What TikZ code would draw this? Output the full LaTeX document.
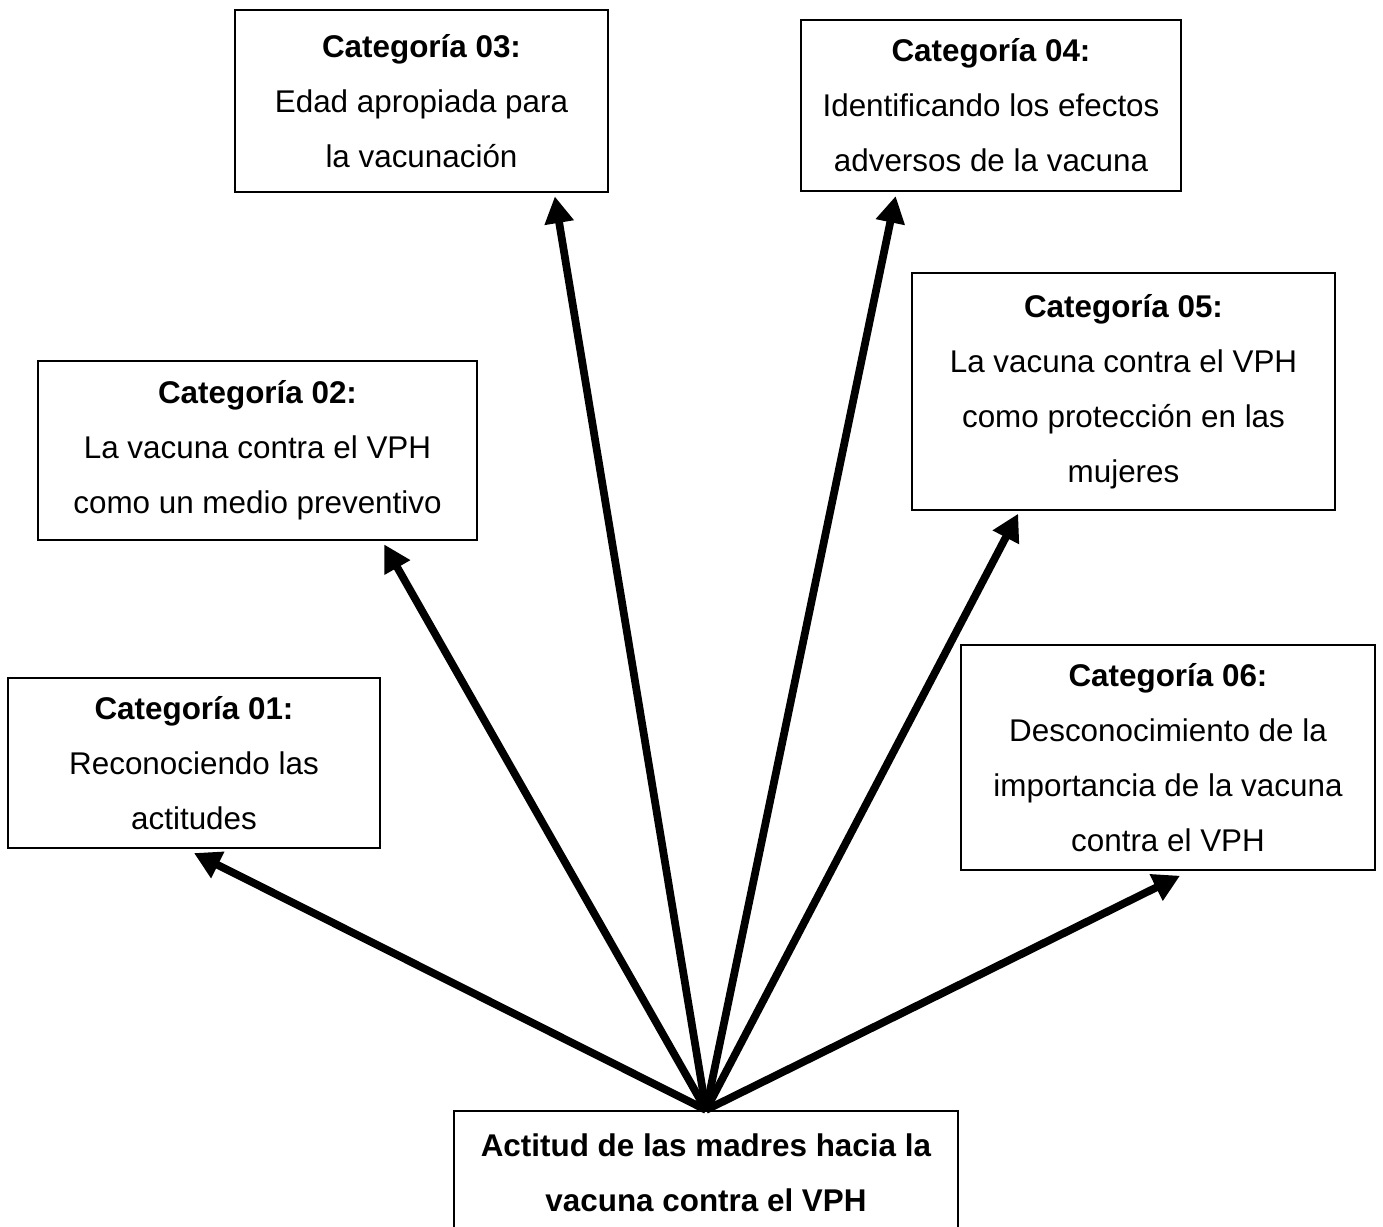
\documentclass[tikz,border=0pt]{standalone}
\usepackage{fontspec}
\setmainfont{Liberation Sans}
\usetikzlibrary{arrows.meta}

\begin{document}
\begin{tikzpicture}[
        x=0.015cm, y=-0.015cm,
        catbox/.style={draw, line width=0.9pt, inner sep=0pt, align=center, fill=white},
        arrow/.style={-{Triangle[length=0.4cm, width=0.42cm]}, line width=3.3pt},
        every node/.style={font=\fontsize{13.4}{23.5}\selectfont}
    ]
    \path[use as bounding box] (0,0) rectangle (1383,1227);
    \clip (0,0) rectangle (1383,1227);
    
    % Left categories
    \node[catbox, minimum width=5.58cm, minimum height=2.55cm] (cat01) at (194, 763) {\textbf{Categoría 01:}\\Reconociendo las\\actitudes};
    \node[catbox, minimum width=6.585cm, minimum height=2.685cm] (cat02) at (257.5, 450.5) {\textbf{Categoría 02:}\\La vacuna contra el VPH\\como un medio preventivo};
    \node[catbox, minimum width=5.595cm, minimum height=2.73cm] (cat03) at (421.5, 101) {\textbf{Categoría 03:}\\Edad apropiada para\\la vacunación};
    
    % Right categories
    \node[catbox, minimum width=5.7cm, minimum height=2.565cm] (cat04) at (991, 105.5) {\textbf{Categoría 04:}\\Identificando los efectos\\adversos de la vacuna};
    \node[catbox, minimum width=6.345cm, minimum height=3.555cm] (cat05) at (1123.5, 391.5) {\textbf{Categoría 05:}\\La vacuna contra el VPH\\como protección en las\\mujeres};
    \node[catbox, minimum width=6.21cm, minimum height=3.375cm] (cat06) at (1168, 757.5) {\textbf{Categoría 06:}\\Desconocimiento de la\\importancia de la vacuna\\contra el VPH};
    
    % Central theme
    \node[catbox, minimum width=7.56cm, minimum height=1.845cm] (actitud) at (706, 1172.5) {\textbf{Actitud de las madres hacia la}\\\textbf{vacuna contra el VPH}};
    
    % Arrows out of the central theme
    \draw[arrow] (actitud.north) -- ([yshift=-0.06cm]cat01.south);
    \draw[arrow] (actitud.north) -- ([xshift=1.9cm, yshift=-0.05cm]cat02.south);
    \draw[arrow] (actitud.north) -- ([xshift=2cm, yshift=-0.05cm]cat03.south);
    \draw[arrow] (actitud.north) -- ([xshift=-1.43cm, yshift=-0.06cm]cat04.south);
    \draw[arrow] (actitud.north) -- ([xshift=-1.58cm, yshift=-0.04cm]cat05.south);
    \draw[arrow] (actitud.north) -- ([xshift=0.18cm, yshift=-0.07cm]cat06.south);
    
\end{tikzpicture}
\end{document}
